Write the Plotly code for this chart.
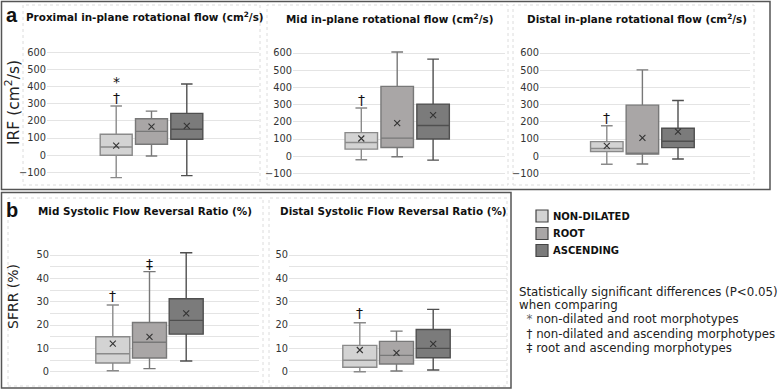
import plotly.graph_objects as go

# ---------------- data ----------------
groups = ["NON-DILATED", "ROOT", "ASCENDING"]

prox_lower = [-131, -5, -119]
prox_q1 = [0, 64, 93]
prox_median = [48, 139, 151]
prox_q3 = [122, 213, 244]
prox_upper = [287, 257, 415]
prox_mean = [56, 167, 171]

midirf_lower = [-21, -3, -23]
midirf_q1 = [41, 51, 100]
midirf_median = [80, 105, 179]
midirf_q3 = [137, 406, 303]
midirf_upper = [280, 606, 565]
midirf_mean = [103, 193, 239]

distirf_lower = [-47, -45, -16]
distirf_q1 = [27, 12, 50]
distirf_median = [45, 16, 87]
distirf_q3 = [85, 297, 163]
distirf_upper = [177, 502, 324]
distirf_mean = [60, 107, 143]

midsfrr_lower = [0.4, 1.3, 4.6]
midsfrr_q1 = [3.7, 5.9, 16.1]
midsfrr_median = [7.7, 12.6, 22.0]
midsfrr_q3 = [15.0, 21.1, 31.3]
midsfrr_upper = [28.6, 42.9, 51.0]
midsfrr_mean = [12.0, 14.9, 25.0]

distsfrr_lower = [0.0, 0.3, 0.7]
distsfrr_q1 = [1.9, 3.3, 6.0]
distsfrr_median = [4.9, 7.0, 10.0]
distsfrr_q3 = [11.3, 13.0, 18.1]
distsfrr_upper = [21.0, 17.4, 26.7]
distsfrr_mean = [9.3, 8.1, 11.9]

titles = [
    "Proximal in-plane rotational flow (cm<sup>2</sup>/s)",
    "Mid in-plane rotational flow (cm<sup>2</sup>/s)",
    "Distal in-plane rotational flow (cm<sup>2</sup>/s)",
    "Mid Systolic Flow Reversal Ratio (%)",
    "Distal Systolic Flow Reversal Ratio (%)",
]
# significance symbols: (panel index, group index, symbol, y value)
sig_panel = [0, 0, 1, 2, 3, 3, 4]
sig_group = [0, 0, 0, 0, 0, 1, 0]
sig_symbol = ["†", "*", "†", "†", "†", "‡", "†"]
sig_y = [336, 425, 326, 225, 32.6, 46.0, 25.0]

irf_ticks = [-100, 0, 100, 200, 300, 400, 500, 600]
sfrr_ticks = [0, 10, 20, 30, 40, 50]

legend_lines = [
    "Statistically significant differences (P<0.05)",
    "when comparing",
    "  <span style='color:#666'>*</span> non-dilated and root morphotypes",
    "  † non-dilated and ascending morphotypes",
    "  ‡ root and ascending morphotypes",
]

# ---------------- styling ----------------
W, H = 778, 390
fills = ["#d3d3d3", "#a9a6a6", "#7b7b7b"]
edges = ["#8a8a8a", "#787878", "#4f4f4f"]
FONT = "DejaVu Sans"


def px(x):
    return x / W


def py(y):
    return 1 - y / H


panels = [
    dict(low=prox_lower, q1=prox_q1, med=prox_median, q3=prox_q3, up=prox_upper, mean=prox_mean,
         xd=(47, 259), yd=(43, 183), c=151.5, s=35.3, bw=32, zero=155.2, ppu=0.1714, title_xy=(145, 17)),
    dict(low=midirf_lower, q1=midirf_q1, med=midirf_median, q3=midirf_q3, up=midirf_upper,
         mean=midirf_mean,
         xd=(293, 505), yd=(43, 183), c=397.2, s=35.9, bw=32.5, zero=156.2, ppu=0.1719, title_xy=(389, 18)),
    dict(low=distirf_lower, q1=distirf_q1, med=distirf_median, q3=distirf_q3, up=distirf_upper, mean=distirf_mean,
         xd=(540, 750), yd=(43, 183), c=642.4, s=35.6, bw=32.5, zero=156.2, ppu=0.1719, title_xy=(637, 18)),
    dict(low=midsfrr_lower, q1=midsfrr_q1, med=midsfrr_median, q3=midsfrr_q3, up=midsfrr_upper, mean=midsfrr_mean,
         xd=(50, 259), yd=(243, 381), c=149.5, s=36.7, bw=34, zero=371.7, ppu=2.333, title_xy=(145, 211)),
    dict(low=distsfrr_lower, q1=distsfrr_q1, med=distsfrr_median, q3=distsfrr_q3, up=distsfrr_upper,
         mean=distsfrr_mean,
         xd=(289, 507), yd=(243, 381), c=396.5, s=36.7, bw=34, zero=371.7, ppu=2.333, title_xy=(393, 211)),
]

fig = go.Figure()
layout = dict(
    width=W, height=H, margin=dict(l=0, r=0, t=0, b=0),
    paper_bgcolor="white", plot_bgcolor="white", showlegend=False,
    font=dict(family=FONT, color="#222"),
)
annotations = []
shapes = []

for i, p in enumerate(panels):
    ax = "" if i == 0 else str(i + 1)
    xa, ya = "x" + ax, "y" + ax
    for g in range(3):
        fig.add_trace(go.Box(
            x=[g + 1], q1=[p["q1"][g]], median=[p["med"][g]], q3=[p["q3"][g]],
            lowerfence=[p["low"][g]], upperfence=[p["up"][g]],
            width=p["bw"] / p["s"], whiskerwidth=0.36,
            fillcolor=fills[g], line=dict(color=edges[g], width=1.4),
            boxpoints=False, name=groups[g], xaxis=xa, yaxis=ya, hoverinfo="skip",
        ))
    fig.add_trace(go.Scatter(
        x=[1, 2, 3], y=p["mean"], mode="markers", xaxis=xa, yaxis=ya,
        marker=dict(symbol="x-thin", size=6, line=dict(width=1.1, color="#333")),
        hoverinfo="skip",
    ))
    x0, x1 = p["xd"]
    y0, y1 = p["yd"]
    xr = [2 - (p["c"] - x0) / p["s"], 2 + (x1 - p["c"]) / p["s"]]
    yr = [(p["zero"] - y1) / p["ppu"], (p["zero"] - y0) / p["ppu"]]
    irf = i < 3
    layout["xaxis" + ax] = dict(domain=[px(x0), px(x1)], range=xr, visible=False, anchor=ya)
    ydict = dict(
        domain=[py(y1), py(y0)], range=yr, anchor=xa,
        tickmode="array", tickvals=irf_ticks if irf else sfrr_ticks,
        showgrid=True, gridcolor="#e4e4e4", gridwidth=1, zeroline=False,
        showline=False, ticks="", tickfont=dict(size=9.8, color="#333", family=FONT),
    )
    if not irf:
        ydict["minor"] = dict(dtick=5, tick0=0, showgrid=True, gridcolor="#e4e4e4", gridwidth=1)
    layout["yaxis" + ax] = ydict
    tx, ty = p["title_xy"]
    annotations.append(dict(
        x=px(tx), y=py(ty), xref="paper", yref="paper", text="<b>" + titles[i] + "</b>",
        showarrow=False, font=dict(size=10.4, family=FONT, color="#111"),
        xanchor="center", yanchor="middle",
    ))

for k in range(len(sig_symbol)):
    ax = "" if sig_panel[k] == 0 else str(sig_panel[k] + 1)
    annotations.append(dict(
        x=sig_group[k] + 1, y=sig_y[k], xref="x" + ax, yref="y" + ax,
        text=sig_symbol[k], showarrow=False,
        font=dict(size=14, family=FONT, color="#111"),
        xanchor="center", yanchor="middle",
    ))

# axis titles
annotations.append(dict(x=px(13), y=py(103), xref="paper", yref="paper", text="IRF (cm<sup>2</sup>/s)",
                        textangle=-90, showarrow=False, font=dict(size=15.5, family=FONT, color="#222"),
                        xanchor="center", yanchor="middle"))
annotations.append(dict(x=px(13), y=py(297), xref="paper", yref="paper", text="SFRR (%)",
                        textangle=-90, showarrow=False, font=dict(size=14, family=FONT, color="#222"),
                        xanchor="center", yanchor="middle"))
# panel letters
annotations.append(dict(x=px(4), y=py(15), xref="paper", yref="paper", text="<b>a</b>",
                        showarrow=False, font=dict(size=20, family="Liberation Sans", color="#111"),
                        xanchor="left", yanchor="middle"))
annotations.append(dict(x=px(4), y=py(210), xref="paper", yref="paper", text="<b>b</b>",
                        showarrow=False, font=dict(size=20, family="Liberation Sans", color="#111"),
                        xanchor="left", yanchor="middle"))

# legend (group swatches)
leg_y = [216, 233.5, 250.5]
for g in range(3):
    shapes.append(dict(type="rect", xref="paper", yref="paper",
                       x0=px(536), x1=px(548), y0=py(leg_y[g] - 6), y1=py(leg_y[g] + 6),
                       fillcolor=fills[g], line=dict(color="#444", width=1.2)))
    annotations.append(dict(x=px(551), y=py(leg_y[g]), xref="paper", yref="paper",
                            text="<b>" + groups[g] + "</b>", showarrow=False,
                            font=dict(size=10, family=FONT, color="#111"),
                            xanchor="left", yanchor="middle"))

# stats note
note_y = [292, 305, 319, 334, 348]
for k, line in enumerate(legend_lines):
    annotations.append(dict(x=px(517), y=py(note_y[k]), xref="paper", yref="paper",
                            text=line.replace("  ", "&nbsp;&nbsp;"), showarrow=False,
                            font=dict(size=11.8, family=FONT, color="#222"),
                            xanchor="left", yanchor="middle"))

# sub-chart dotted frames
frames = [(23, 5, 260, 185), (267, 5, 508, 185), (513, 5, 754, 185),
          (8, 198, 263, 386), (269, 198, 507, 386)]
for (a, b, c, d) in frames:
    shapes.append(dict(type="rect", xref="paper", yref="paper", x0=px(a), x1=px(c), y0=py(d), y1=py(b),
                       line=dict(color="#dcdcdc", width=1, dash="dot"), layer="below"))
# outer panel borders
shapes.append(dict(type="rect", xref="paper", yref="paper", x0=px(1.5), x1=px(770), y0=py(189.5), y1=py(1.5),
                   line=dict(color="#555", width=1.5)))
shapes.append(dict(type="rect", xref="paper", yref="paper", x0=px(1.5), x1=px(511), y0=py(388), y1=py(192.5),
                   line=dict(color="#555", width=1.5)))

layout["annotations"] = annotations
layout["shapes"] = shapes
fig.update_layout(**layout)
fig.write_html("out.html", config={"displayModeBar": False},
               post_script="document.body.style.margin='0';")
